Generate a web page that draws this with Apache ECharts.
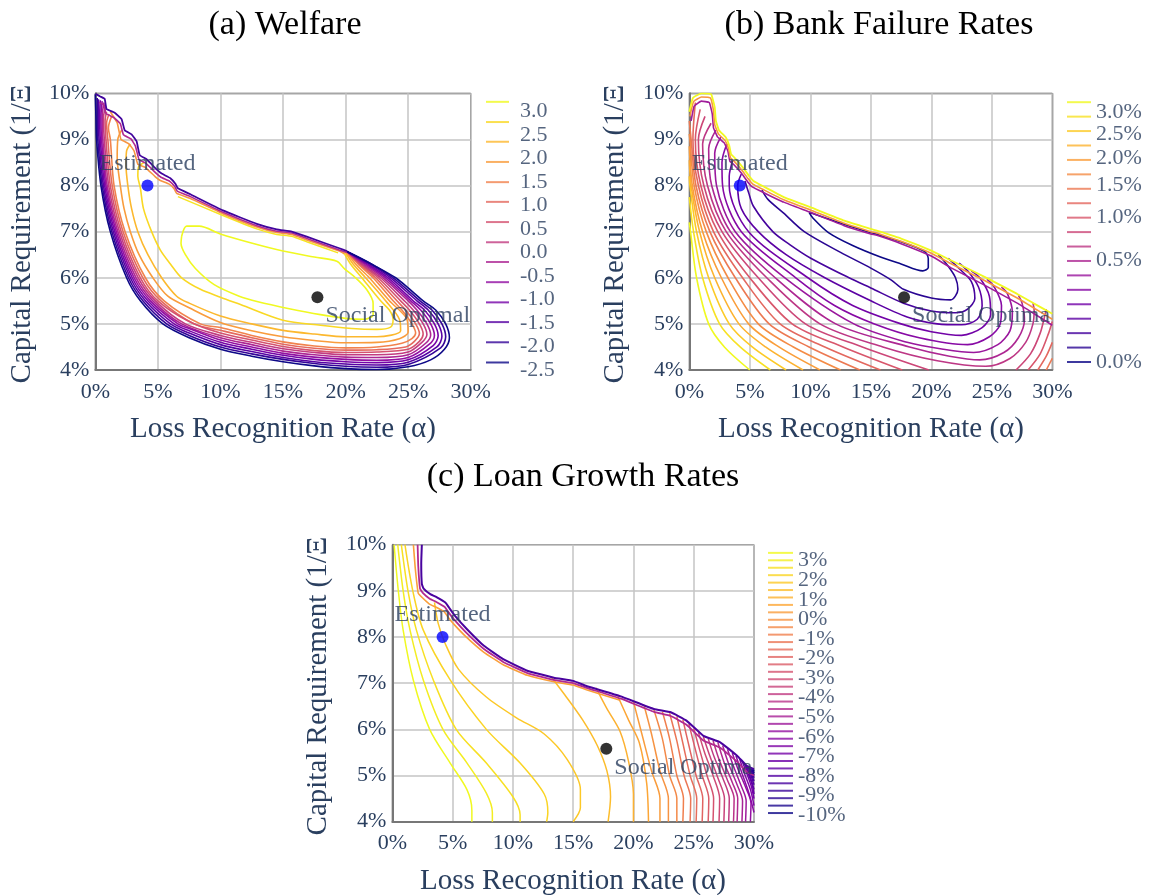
<!DOCTYPE html>
<html><head><meta charset="utf-8">
<script src="https://cdn.jsdelivr.net/npm/echarts@6.0.0/dist/echarts.min.js"></script>
<style>html,body{margin:0;padding:0;background:#fff}#c{width:1150px;height:895px}</style>
</head><body><div id="c"></div><script>
// ---------- DATA (alpha %, capital requirement %) ----------
const xTicks = [0,5,10,15,20,25,30];
const yTicks = [4,5,6,7,8,9,10];
const estimatedPoint = [4.17, 8.0];
const socialPoint = [17.75, 5.58];

// (a) Welfare contour levels (legend) and labelled ticks
const welfareLevels = [3.21,2.78,2.36,1.93,1.5,1.08,0.65,0.22,-0.2,-0.63,-1.06,-1.48,-1.91,-2.34];
const welfareTicks = [3.0,2.5,2.0,1.5,1.0,0.5,0.0,-0.5,-1.0,-1.5,-2.0,-2.5];
// contour lines, level 0 (highest) ... level 13 (lowest); flat [a,c,a,c,...]
const welfareLines = [
 [6.9,6.9, 7.3,7.12, 8.3,7.12, 10,6.95, 12.4,6.76, 15,6.58, 17.5,6.45, 19.3,6.36, 19.9,6.2, 20.8,6.0, 21.7,5.74, 22.2,5.45, 22.2,5.2, 21.5,5.1, 20,5.12, 18,5.2, 15.5,5.33, 13,5.48, 11.5,5.6, 9.5,5.85, 8,6.2, 7.2,6.5, 6.85,6.75, 6.9,6.9],
 [3.9,8.5, 3.45,8.4, 3.4,8.2, 3.6,7.95, 3.85,7.5, 4.5,7.0, 5.2,6.6, 6.0,6.3, 6.9,6.0, 8.4,5.75, 10,5.58, 11.6,5.42, 15,5.08, 18,4.97, 20.5,4.9, 22.5,4.88, 23.6,4.93, 23.8,5.1, 23.5,5.3, 22.8,5.5, 21.3,6.0, 20.4,6.3, 19.8,6.58],
 [2.8,8.9, 2.5,8.75, 2.45,8.45, 2.6,8.0, 2.9,7.5, 3.4,7.0, 4.2,6.5, 5.3,6.0, 6.5,5.6, 7.5,5.45, 10,5.17, 12.5,5.0, 15,4.86, 17.5,4.78, 20,4.72, 22.5,4.72, 24.4,4.85, 24.3,5.1, 23.2,5.5, 21.6,6.0, 20.6,6.3, 19.95,6.57],
 [2.1,9.2, 1.8,9.0, 1.75,8.6, 2.0,8.0, 2.3,7.5, 2.8,7.0, 3.5,6.5, 4.6,6.0, 5.8,5.6, 7.5,5.35, 10,5.03, 12.5,4.85, 15,4.72, 17.5,4.64, 20,4.59, 22.5,4.6, 24.3,4.68, 25.0,4.82, 24.9,5.1, 23.5,5.5, 21.9,6.0, 20.8,6.3, 20.0,6.58],
 [1.3,9.5, 1.05,9.25, 1.2,9.0, 1.5,8.0, 2.38,7.0, 4.0,6.0, 5.5,5.5, 8.4,5.0, 10,4.92, 12.5,4.75, 15,4.61, 17.5,4.52, 20,4.48, 22.5,4.5, 24.5,4.58, 25.3,4.68, 25.6,4.8, 25.3,5.0, 24.5,5.3, 23.8,5.5, 22.2,6.0, 21.0,6.3, 20.05,6.58],
 [1.1,9.55, 0.9,9.35, 1.0,9.0, 1.35,8.0, 2.22,7.0, 3.8,6.0, 5.25,5.5, 7.9,5.0, 10,4.86, 12.5,4.7, 15,4.56, 17.5,4.47, 20,4.43, 22.5,4.44, 24.8,4.5, 25.5,4.62, 25.9,4.79, 25.6,5.0, 24.8,5.3, 24.1,5.5, 22.4,6.0, 21.1,6.3, 20.05,6.58],
 [0.9,9.6, 0.78,9.4, 0.85,9.0, 1.2,8.0, 2.07,7.0, 3.6,6.0, 5.0,5.5, 7.5,5.05, 10,4.8, 12.5,4.65, 15,4.51, 17.5,4.42, 20,4.38, 22.5,4.39, 25,4.45, 25.9,4.62, 26.2,4.78, 25.9,5.0, 25.1,5.3, 24.4,5.5, 22.6,6.0, 21.2,6.3, 20.05,6.58],
 [0.8,9.7, 0.65,9.45, 0.72,9.0, 1.07,8.0, 1.93,7.0, 3.43,6.0, 4.8,5.5, 7.2,5.0, 10,4.75, 12.5,4.6, 15,4.46, 17.5,4.38, 20,4.33, 22.5,4.33, 25,4.39, 26.1,4.6, 26.5,4.77, 26.2,5.0, 25.4,5.3, 24.7,5.5, 22.8,6.0, 21.3,6.3, 20.05,6.58],
 [0.7,9.8, 0.55,9.5, 0.6,9.0, 0.95,8.0, 1.8,7.0, 3.26,6.0, 4.6,5.5, 6.9,5.0, 10,4.7, 12.5,4.55, 15,4.41, 17.5,4.33, 20,4.28, 22.5,4.27, 25,4.33, 26.4,4.58, 26.8,4.76, 26.5,5.0, 25.7,5.3, 25.0,5.5, 23.0,6.0, 21.45,6.3, 20.1,6.57],
 [0.55,9.83, 0.45,9.5, 0.5,9.0, 0.85,8.0, 1.68,7.0, 3.1,6.0, 4.4,5.5, 6.6,5.0, 7.5,4.9, 10,4.65, 12.5,4.5, 15,4.36, 17.5,4.28, 20,4.23, 22.5,4.21, 25,4.27, 26.7,4.56, 27.1,4.75, 26.8,5.0, 26.0,5.3, 25.2,5.5, 23.2,6.0, 21.6,6.3, 20.1,6.57],
 [0.4,9.85, 0.35,9.5, 0.4,9.0, 0.75,8.0, 1.56,7.0, 2.95,6.0, 4.2,5.5, 6.3,5.0, 7.5,4.85, 10,4.6, 12.5,4.45, 15,4.32, 17.5,4.23, 20,4.18, 22.5,4.16, 25,4.22, 27.0,4.53, 27.4,4.74, 27.1,5.0, 26.3,5.3, 25.4,5.5, 23.4,6.0, 21.75,6.3, 20.1,6.57],
 [0.25,9.87, 0.25,9.5, 0.3,9.0, 0.65,8.0, 1.44,7.0, 2.8,6.0, 4.0,5.5, 6.0,5.0, 7.5,4.8, 10,4.55, 12.5,4.4, 15,4.27, 17.5,4.18, 20,4.13, 22.5,4.11, 25,4.17, 27.3,4.5, 27.7,4.73, 27.4,5.0, 26.6,5.3, 25.7,5.5, 23.6,6.0, 21.9,6.3, 20.1,6.57],
 [0.15,9.9, 0.15,9.5, 0.2,9.0, 0.55,8.0, 1.32,7.0, 2.65,6.0, 3.8,5.5, 5.7,5.0, 7.5,4.75, 10,4.5, 12.5,4.35, 15,4.23, 17.5,4.14, 20,4.08, 22.5,4.06, 25,4.12, 27.6,4.48, 28.0,4.72, 27.7,5.0, 26.9,5.3, 25.95,5.5, 23.8,6.0, 22.05,6.3, 20.1,6.57],
 [0.0,9.98, 0.05,9.5, 0.1,9.0, 0.45,8.0, 1.2,7.0, 2.5,6.0, 3.6,5.5, 5.4,5.0, 7.5,4.7, 10,4.45, 12.5,4.3, 15,4.18, 17.5,4.09, 20,4.03, 22.5,4.01, 25,4.07, 26.8,4.22, 27.9,4.45, 28.3,4.7, 28.0,5.0, 27.2,5.3, 26.2,5.5, 25.0,5.78, 24.0,6.0, 22.2,6.28, 21.0,6.45, 20.1,6.57]
];
// upper feasibility edge where the welfare contours pile up (outer -> inner)
const welfareEdgeTop = [0.0,9.99, 0.4,9.93, 0.75,9.88, 0.9,9.66, 1.55,9.58, 2.1,9.44, 2.35,9.2, 2.9,9.11, 3.3,8.96, 3.55,8.66, 4.1,8.57, 4.9,8.35, 5.3,8.26, 6.0,8.16, 6.4,8.04, 6.6,7.94, 7.6,7.81, 10.2,7.46, 12.9,7.17, 14.5,7.05, 15.7,7.0, 16.9,6.89, 19.5,6.64, 20.1,6.58];
const welfareEdgeMid = [0.3,9.8, 0.7,9.75, 0.85,9.56, 1.5,9.47, 2.0,9.34, 2.25,9.1, 2.85,9.01, 3.2,8.86, 3.5,8.56, 4.05,8.48, 4.85,8.27, 5.25,8.18, 5.95,8.09, 6.35,7.98, 6.55,7.88, 7.6,7.76, 10.2,7.42, 12.9,7.13, 14.5,7.01, 15.7,6.97, 16.9,6.85, 19.5,6.6, 20.1,6.55];
const welfareEdgeLow = [1.2,9.6, 1.75,9.36, 2.05,9.0, 2.7,8.9, 3.1,8.75, 3.4,8.46, 4.0,8.39, 4.8,8.19, 5.2,8.11, 5.9,8.03, 6.3,7.93, 6.5,7.83, 7.6,7.72, 10.2,7.39, 12.9,7.1, 14.5,6.98, 15.7,6.94, 16.9,6.82, 19.5,6.58, 19.9,6.52];
const welfareEdgeInner = [6.6,7.76, 10.2,7.35, 12.9,7.06, 14.5,6.94, 15.7,6.9, 16.9,6.78, 19.4,6.54];

// (b) Bank failure: 19 levels on a square-root colour scale
const bankLevels = [1.8,1.7,1.6,1.5,1.4,1.3,1.2,1.1,1.0,0.9,0.8,0.7,0.6,0.5,0.4,0.3,0.2,0.1,0.0];
const bankTicks = [3.0,2.5,2.0,1.5,1.0,0.5,0.0];
const bankLines = [
 [0,7.2, 0.1,7.0, 0.6,6.0, 1.6,5.0, 2.9,4.5, 5.0,4.0],
 [0,7.75, 0.35,7.0, 1.1,6.0, 2.5,5.0, 4.2,4.5, 6.7,4.0],
 [0,8.2, 0.05,8.0, 0.6,7.0, 1.6,6.0, 3.3,5.0, 5.2,4.5, 8.0,4.0],
 [0,8.55, 0.15,8.0, 0.85,7.0, 2.1,6.0, 4.1,5.0, 6.3,4.5, 9.4,4.0],
 [0,8.85, 0.25,8.0, 1.1,7.0, 2.65,6.0, 4.9,5.0, 7.4,4.5, 10.8,4.0],
 [0,9.12, 0.05,9.0, 0.4,8.0, 1.4,7.0, 3.2,6.0, 5.7,5.0, 8.6,4.5, 12.5,4.0],
 [0,9.4, 0.15,9.0, 0.55,8.0, 1.7,7.0, 3.8,6.0, 6.6,5.0, 9.9,4.5, 14.1,4.0],
 [0.5,9.8, 0.3,9.0, 0.75,8.0, 2.0,7.0, 4.4,6.0, 7.5,5.0, 11.2,4.5, 15.8,4.0],
 [0.9,9.65, 0.5,9.0, 0.95,8.0, 2.35,7.0, 5.0,6.0, 8.5,5.0, 12.7,4.5, 17.6,4.0],
 [1.3,9.5, 0.75,9.0, 1.2,8.0, 2.7,7.0, 5.7,6.0, 9.6,5.0, 14.3,4.5, 19.8,4.0],
 [1.8,9.35, 1.1,8.9, 1.5,8.0, 3.05,7.0, 6.4,6.0, 10.8,5.0, 16.0,4.5, 20.5,4.2, 24.5,4.08, 26.5,4.25, 27.8,4.6, 28.4,5.0, 28.5,5.3, 28.4,5.45],
 [2.2,9.2, 1.6,8.8, 1.85,8.0, 3.4,7.0, 7.1,6.0, 12.1,5.0, 18.2,4.5, 21.5,4.3, 24,4.22, 26,4.38, 27.2,4.7, 27.7,5.1, 27.5,5.45, 27.2,5.62],
 [2.6,9.05, 2.1,8.7, 2.25,8.0, 3.8,7.0, 7.9,6.0, 13.6,5.0, 18,4.6, 21.0,4.45, 23.5,4.38, 25.5,4.55, 26.5,4.85, 26.7,5.25, 26.3,5.65, 25.8,5.8],
 [3.1,8.9, 2.7,8.5, 2.75,8.0, 4.3,7.0, 8.8,6.0, 12,5.4, 15.3,5.0, 19,4.7, 23,4.55, 24.8,4.72, 25.7,5.0, 25.8,5.4, 25.2,5.8, 24.6,5.97],
 [3.6,8.55, 3.3,8.2, 3.3,8.0, 4.9,7.0, 9.8,6.0, 13.5,5.4, 17.5,5.0, 20,4.83, 22.5,4.75, 24.2,4.92, 24.9,5.2, 24.8,5.6, 24.0,6.0, 23.3,6.15],
 [4.3,8.25, 4.0,8.0, 4.3,7.5, 5.7,7.0, 8,6.5, 11.2,6.0, 15,5.5, 18,5.15, 20.5,5.0, 22.5,4.98, 23.8,5.1, 24.2,5.4, 23.9,5.8, 23.0,6.15, 22.3,6.32],
 [4.6,8.1, 4.9,7.85, 5.3,7.55, 6.9,7.0, 8.3,6.72, 10,6.43, 13.2,6.0, 15,5.78, 17.7,5.45, 20,5.28, 22.0,5.24, 23.0,5.32, 23.6,5.55, 23.3,5.92, 22.3,6.2, 21.4,6.42],
 [6.0,7.9, 6.5,7.7, 7.8,7.4, 9.5,7.0, 12.5,6.55, 15,6.21, 16.7,5.95, 17.7,5.75, 20,5.56, 21.6,5.52, 22.2,5.75, 22.0,6.0, 21.4,6.25, 20.6,6.5],
 [9.9,7.42, 12.8,7.16, 15,6.98, 17.5,6.78, 19.4,6.58, 19.75,6.42, 19.75,6.22, 19.3,6.15, 17.5,6.3, 15.8,6.45, 13.5,6.7, 11.5,6.98, 10.2,7.3, 9.9,7.42]
];
// right-hand arms of the outer failure contours (bottom-right corner)
const bankArmLevels = [9,8,7,6];
const bankArms = [
 [27.0,4.0, 28.2,4.35, 29.0,4.8, 29.4,5.2, 29.5,5.32],
 [28.0,4.0, 29.0,4.35, 29.7,4.8, 30.0,5.05],
 [28.8,4.0, 29.5,4.3, 30.0,4.6],
 [29.5,4.0, 30.0,4.25]
];
const bankEdgeTop = [0.0,9.6, 0.3,9.9, 1.0,10.0, 1.8,9.98, 2.1,9.7, 2.2,9.4, 2.45,9.2, 3.0,9.05, 3.3,8.87, 3.45,8.68, 3.75,8.6, 4.4,8.4, 4.9,8.22, 5.3,8.1, 6.2,7.97, 7.8,7.75, 10,7.53, 12.8,7.24, 15,7.06, 15.5,7.02, 17.5,6.85, 20,6.59, 21.6,6.38, 24.4,6.02, 27.1,5.65, 28.5,5.44, 30,5.22];
const bankEdgeMid = [0.05,9.5, 0.35,9.82, 1.0,9.92, 1.75,9.9, 2.0,9.62, 2.1,9.32, 2.4,9.12, 2.95,8.98, 3.25,8.8, 3.4,8.6, 3.7,8.53, 4.35,8.33, 4.85,8.15, 5.25,8.03, 6.2,7.9, 7.8,7.69, 10,7.47, 12.8,7.18, 15,7.0, 15.5,6.97, 17.5,6.79, 20,6.53, 21.6,6.31, 24.4,5.94, 27.1,5.56, 28.5,5.34, 30,5.1];
const bankEdgeLow = [0.15,9.4, 0.4,9.72, 1.0,9.83, 1.65,9.8, 1.9,9.55, 2.0,9.25, 2.35,9.05, 2.9,8.92, 3.2,8.74, 3.35,8.53, 3.65,8.46, 4.3,8.27, 4.8,8.09, 5.2,7.97, 6.2,7.84, 7.8,7.64, 10,7.42, 12.8,7.13, 15,6.95, 15.5,6.92, 17.5,6.74, 20,6.47, 21.6,6.22, 24.4,5.84, 27.1,5.45, 28.5,5.22, 30,4.97];

// (c) Loan growth: 36 levels
const loanLevels = [3.4,3.02,2.64,2.26,1.88,1.5,1.12,0.74,0.36,-0.02,-0.4,-0.78,-1.16,-1.54,-1.92,-2.3,-2.68,-3.06,-3.44,-3.82,-4.2,-4.58,-4.96,-5.34,-5.72,-6.1,-6.48,-6.86,-7.24,-7.62,-8.0,-8.38,-8.76,-9.14,-9.52,-9.9];
const loanTicks = [3,2,1,0,-1,-2,-3,-4,-5,-6,-7,-8,-9,-10];
const loanLines = [
 [0.15,10, 0.5,9.0, 0.9,8.15, 1.74,7.07, 3.1,6.0, 4.8,5.27, 6.2,4.69, 6.6,4.25, 6.6,4.0],
 [0.45,10, 0.9,9.0, 1.47,8.15, 2.57,7.07, 4.2,6.0, 6.2,5.27, 7.8,4.62, 8.3,4.2, 8.3,4.0],
 [0.75,10, 1.3,9.0, 2.0,8.15, 3.4,7.07, 5.3,6.0, 7.8,5.27, 10.0,4.54, 10.6,4.15, 10.6,4.0],
 [1.05,10, 1.7,9.0, 2.57,8.15, 4.8,7.07, 7.8,6.0, 10.6,5.27, 12.6,4.6, 12.9,4.2, 12.8,4.0],
 [3.5,8.75, 3.8,8.3, 4.4,7.85, 5.5,7.3, 7.8,6.7, 10.3,6.25, 12.6,5.9, 14.5,5.35, 15.6,4.7, 15.6,4.3, 15.0,4.0],
 [13.2,7.13, 14.3,6.75, 15.8,6.2, 17.0,5.65, 17.8,5.1, 18.1,4.54, 17.9,4.0],
 [16.9,6.9, 17.8,6.45, 18.9,5.95, 19.6,5.3, 20.0,4.6, 20.0,4.0],
 [18.7,6.72, 19.6,6.2, 20.5,5.7, 21.1,4.83, 21.25,4.0],
 [20.0,6.6, 20.7,5.9, 21.5,5.1, 22.2,4.5, 22.2,4.0],
 [20.9,6.5, 21.5,5.9, 22.2,5.1, 22.9,4.5, 22.9,4.0],
 [21.7,6.42, 22.4,5.8, 23.0,5.0, 23.6,4.5, 23.6,4.0],
 [22.4,6.38, 23.0,5.8, 23.6,5.0, 24.15,4.5, 24.1,4.0],
 [23.0,6.35, 23.6,5.75, 24.2,5.0, 24.75,4.5, 24.7,4.0],
 [23.6,6.28, 24.1,5.7, 24.7,5.0, 25.25,4.5, 25.2,4.0],
 [24.1,6.21, 24.6,5.65, 25.2,5.0, 25.75,4.5, 25.7,4.0],
 [24.6,6.12, 25.1,5.6, 25.7,5.0, 26.25,4.5, 26.2,4.0],
 [25.0,6.02, 25.5,5.55, 26.1,5.0, 26.65,4.5, 26.6,4.0],
 [25.4,5.93, 25.9,5.5, 26.6,5.0, 27.15,4.5, 27.1,4.0],
 [25.8,5.84, 26.3,5.45, 27.0,4.95, 27.55,4.5, 27.5,4.0],
 [26.2,5.8, 26.7,5.4, 27.4,4.95, 27.95,4.5, 27.9,4.0],
 [26.6,5.76, 27.1,5.35, 27.8,4.9, 28.35,4.5, 28.3,4.0],
 [27.0,5.72, 27.5,5.3, 28.2,4.85, 28.65,4.5, 28.6,4.0],
 [27.4,5.65, 27.9,5.25, 28.6,4.8, 29.05,4.45, 29.0,4.0],
 [27.8,5.57, 28.3,5.2, 28.9,4.8, 29.35,4.45, 29.3,4.0],
 [28.2,5.49, 28.7,5.12, 29.3,4.75, 29.75,4.4, 29.7,4.0],
 [28.5,5.43, 29.0,5.05, 29.6,4.6, 30.0,4.2],
 [28.8,5.37, 29.2,5.05, 29.7,4.7, 30.0,4.35],
 [29.0,5.32, 29.4,5.05, 29.8,4.75, 30.0,4.5],
 [29.2,5.27, 29.55,5.02, 29.85,4.8, 30.0,4.6],
 [29.35,5.22, 29.65,5.0, 30.0,4.7],
 [29.5,5.19, 29.75,5.0, 30.0,4.8],
 [29.6,5.17, 29.8,5.02, 30.0,4.88],
 [29.7,5.16, 29.85,5.05, 30.0,4.95],
 [29.8,5.15, 30.0,5.0],
 [29.9,5.14, 30.0,5.05],
 [29.95,5.13, 30.0,5.1]
];
const loanEdgeTop = [2.45,10, 2.4,9.6, 2.45,9.15, 2.6,9.05, 3.15,8.93, 3.7,8.86, 4.4,8.75, 4.7,8.64, 5.2,8.46, 6.2,8.17, 7.6,7.81, 9.2,7.52, 11.2,7.27, 13.4,7.12, 15.0,7.05, 16.1,6.94, 18.9,6.72, 21.7,6.44, 23.1,6.37, 24.4,6.19, 25.8,5.86, 27.2,5.72, 28.6,5.43, 29.4,5.21, 30,5.14];
const loanEdgeMid = [2.1,10, 2.15,9.55, 2.3,9.05, 2.55,8.95, 3.1,8.83, 3.65,8.76, 4.35,8.65, 4.65,8.54, 5.15,8.37, 6.15,8.09, 7.6,7.74, 9.2,7.46, 11.2,7.22, 13.4,7.07, 15.0,7.0, 16.1,6.9, 18.9,6.67, 21.7,6.38, 23.1,6.29, 24.4,6.1, 25.8,5.76, 27.2,5.6, 28.6,5.3, 29.4,5.08, 30,5.0];
const loanEdgeLow = [1.75,10, 1.9,9.5, 2.15,8.95, 2.5,8.85, 3.05,8.72, 3.6,8.65, 4.3,8.55, 4.6,8.44, 5.1,8.28, 6.1,8.01, 7.6,7.67, 9.2,7.4, 11.2,7.17, 13.4,7.03, 15.0,6.96, 16.1,6.86, 18.9,6.63];

// ---------- RENDERING ----------
const FONT = 'Liberation Serif';
const TXT = '#2a3f5f';
const plasmaStops = ['#0d0887','#41049d','#6a00a8','#8f0da4','#b12a90','#cc4778','#e16462','#f2844b','#fca636','#fcce25','#f0f921'];
function hex(h){return [1,3,5].map(i=>parseInt(h.substr(i,2),16));}
function plasma(t){t=Math.max(0,Math.min(1,t));const p=t*10,i=Math.min(9,Math.floor(p)),f=p-i;const a=hex(plasmaStops[i]),b=hex(plasmaStops[i+1]);return 'rgb('+[0,1,2].map(j=>Math.round(a[j]+(b[j]-a[j])*f)).join(',')+')';}
function pairs(a){const r=[];for(let i=0;i<a.length;i+=2)r.push([a[i],a[i+1]]);return r;}
function levelColor(k,n){return plasma(1-k/(n-1));}

const series = [];
function addLine(g, pts, color, w, z, sm){
  series.push({type:'line', xAxisIndex:g, yAxisIndex:g, data:pairs(pts), showSymbol:false, symbol:'none',
    smooth: sm===undefined?0.3:sm, lineStyle:{color:color, width:w}, silent:true, z:z, animation:false});
}
// panel a
welfareLines.forEach((l,k)=>addLine(0,l,levelColor(k,welfareLines.length),1.6,2));
addLine(0,welfareEdgeInner,plasma(0.95),1.5,3,0.1);
addLine(0,welfareEdgeLow,plasma(0.75),1.6,3,0.1);
addLine(0,welfareEdgeMid,plasma(0.4),1.6,3,0.1);
addLine(0,welfareEdgeTop,plasma(0.1),1.8,3,0.1);
// panel b
bankLines.forEach((l,k)=>addLine(1,l,levelColor(k,bankLevels.length),1.6,2));
bankArms.forEach((l,i)=>addLine(1,l,levelColor(bankArmLevels[i],bankLevels.length),1.6,2));
addLine(1,bankEdgeLow,plasma(0.35),1.6,3,0.1);
addLine(1,bankEdgeMid,plasma(0.75),1.6,3,0.1);
addLine(1,bankEdgeTop,plasma(1),1.8,3,0.1);
// panel c
loanLines.forEach((l,k)=>addLine(2,l,levelColor(k,loanLevels.length),1.5,2));
addLine(2,loanEdgeLow,plasma(0.78),1.6,3,0.1);
addLine(2,loanEdgeMid,plasma(0.4),1.8,3,0.1);
addLine(2,loanEdgeTop,plasma(0.12),2,3,0.1);

// marker points
function addPoint(g, pt, color, text, pos){
  const lab = pos==='top'
    ? {show:true, formatter:text, position:'top', distance:4, fontFamily:FONT, fontSize:24, color:TXT}
    : {show:true, formatter:text, position:'right', distance:2, offset:[0,19], fontFamily:FONT, fontSize:24, color:TXT};
  series.push({type:'scatter', xAxisIndex:g, yAxisIndex:g, data:[pt], symbol:'circle', symbolSize:12,
    itemStyle:{color:color}, label:lab, z:6, silent:true, animation:false});
}
addPoint(0, estimatedPoint, '#0000ff', 'Estimated', 'top');
addPoint(0, socialPoint, '#000000', 'Social Optimal', 'right');
addPoint(1, estimatedPoint, '#0000ff', 'Estimated', 'top');
addPoint(1, socialPoint, '#000000', 'Social Optima', 'right');
addPoint(2, estimatedPoint, '#0000ff', 'Estimated', 'top');
addPoint(2, socialPoint, '#000000', 'Social Optima', 'right');

// colour-bar legends: one short line per contour level + tick labels
function addLegend(g, vals, n, w, ticks, tickPos, fmt, dist){
  series.push({type:'scatter', xAxisIndex:g, yAxisIndex:g, data:vals.map(v=>[0.5,v]), symbol:'rect', symbolSize:[w,2],
    itemStyle:{color:p=>levelColor(p.dataIndex,n)}, silent:true, animation:false, clip:false});
  series.push({type:'scatter', xAxisIndex:g, yAxisIndex:g, symbol:'circle', symbolSize:0.01, itemStyle:{color:'rgba(0,0,0,0)'},
    data:ticks.map(t=>({value:[1,tickPos(t)], name:fmt(t)})), silent:true, animation:false, clip:false,
    label:{show:true, position:'right', distance:dist, formatter:'{b}', fontFamily:FONT, fontSize:22, color:TXT}});
}
addLegend(3, welfareLevels, welfareLevels.length, 23, welfareTicks, v=>v, v=>v.toFixed(1), 11);
addLegend(4, bankLevels, bankLevels.length, 24, bankTicks, v=>Math.sqrt(v), v=>v.toFixed(1)+'%', 5);
addLegend(5, loanLevels, loanLevels.length, 25, loanTicks, v=>v, v=>v+'%', 5);

const grids = [
  {left:95.3, top:93.3, width:375.4, height:276.7},
  {left:689.3, top:93.3, width:363, height:276.7},
  {left:392.3, top:544.7, width:361.7, height:277},
  {left:486, top:111.7, width:23, height:258.3},
  {left:1067, top:112, width:24, height:250},
  {left:768, top:560.7, width:25, height:254.3}
];
const gridOpts = grids.map((g,i)=>Object.assign({show:i<3, borderColor:'#222', borderWidth:1, backgroundColor:'#fff', containLabel:false}, g));

const labelStyle = {fontFamily:FONT, fontSize:22, color:TXT};
const xAxes = [], yAxes = [];
for(let i=0;i<3;i++){
  xAxes.push({type:'value', gridIndex:i, min:xTicks[0], max:xTicks[xTicks.length-1], interval:5,
    axisLabel:Object.assign({formatter:'{value}%', margin:11}, labelStyle),
    axisTick:{show:false}, axisLine:{show:true, onZero:false, lineStyle:{color:'#777', width:2}},
    splitLine:{show:true, lineStyle:{color:'#c4c4c4', width:1.5}}});
  yAxes.push({type:'value', gridIndex:i, min:yTicks[0], max:yTicks[yTicks.length-1], interval:1,
    axisLabel:Object.assign({formatter:'{value}%', margin:6}, labelStyle),
    axisTick:{show:false}, axisLine:{show:true, onZero:false, lineStyle:{color:'#777', width:2}},
    splitLine:{show:true, lineStyle:{color:'#c4c4c4', width:1.5}}});
}
for(let i=3;i<6;i++) xAxes.push({type:'value', gridIndex:i, min:0, max:1, show:false});
const legAxis = (g,min,max)=>({type:'value', gridIndex:g, min:min, max:max, show:false});
yAxes.push(legAxis(3, welfareTicks[welfareTicks.length-1], welfareTicks[0]));
yAxes.push(legAxis(4, 0, Math.sqrt(bankTicks[0])));
yAxes.push(legAxis(5, loanTicks[loanTicks.length-1], loanTicks[0]));

function txt(x,y,text,size,rot,fill){
  return {type:'text', x:x, y:y, rotation:rot||0, silent:true, z:10,
    style:{text:text, font:size+'px "'+FONT+'"', fill:fill||TXT, align:'center', verticalAlign:'middle'}};
}
const graphics = [
  txt(285,25,'(a) Welfare',34,0,'#000'),
  txt(879,25,'(b) Bank Failure Rates',34,0,'#000'),
  txt(583,477,'(c) Loan Growth Rates',34,0,'#000'),
  txt(283,429,'Loss Recognition Rate (α)',29,0),
  txt(871,429,'Loss Recognition Rate (α)',29,0),
  txt(573,881,'Loss Recognition Rate (α)',29,0),
  txt(22,234,'Capital Requirement (1/Ξ',29,Math.PI/2),
  txt(615,234,'Capital Requirement (1/Ξ',29,Math.PI/2),
  txt(318,686,'Capital Requirement (1/Ξ',29,Math.PI/2)
];

const chart = echarts.init(document.getElementById('c'), null, {renderer:'canvas', width:1150, height:895});
chart.setOption({
  backgroundColor:'#ffffff', animation:false,
  grid:gridOpts, xAxis:xAxes, yAxis:yAxes, series:series, graphic:graphics
});
</script></body></html>
